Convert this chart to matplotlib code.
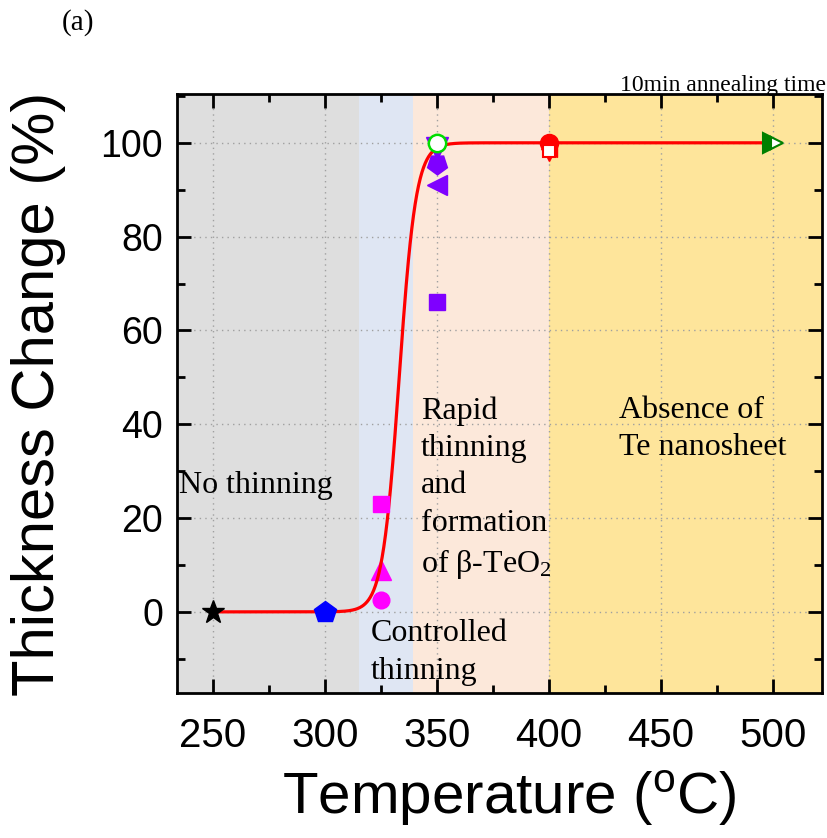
import numpy as np
import matplotlib
matplotlib.use("Agg")
import matplotlib.pyplot as plt
from matplotlib.ticker import MultipleLocator

# ---------------- data ----------------
temp_star = [250]; thick_star = [0]
temp_pent = [300]; thick_pent = [0]
temp_m_circ = [325]; thick_m_circ = [2.5]
temp_m_tri = [325]; thick_m_tri = [9]
temp_m_sq = [325]; thick_m_sq = [23]
temp_p_sq = [350]; thick_p_sq = [66]
temp_p_ltri = [350]; thick_p_ltri = [91]
temp_p_hex = [350]; thick_p_hex = [95.5]
temp_p_dtri = [350]; thick_p_dtri = [98.9]
temp_g_circ = [350]; thick_g_circ = [100]
temp_r_dtri = [400]; thick_r_dtri = [97.5]
temp_r_sq = [400]; thick_r_sq = [98.2]
temp_r_ltri = [400]; thick_r_ltri = [98.6]
temp_r_circ = [400]; thick_r_circ = [100]
temp_g_rtri = [500]; thick_g_rtri = [100]

# Boltzmann fit parameters (red line)
fit_A1, fit_A2, fit_x0, fit_dx = 0.0, 100.0, 333.2, 3.76
fit_xmin, fit_xmax = 250, 500

regions = [(234, 315.2, "#dedede"), (315.2, 339.5, "#dfe6f3"),
           (339.5, 400, "#fce8da"), (400, 522, "#fee59b")]

xticks = [250, 300, 350, 400, 450, 500]
yticks = [0, 20, 40, 60, 80, 100]

# ---------------- figure ----------------
fig = plt.figure(figsize=(8.28, 8.38), dpi=100)
ax = fig.add_axes([0.2138, 0.1730, 0.9928 - 0.2138, 0.8878 - 0.1730])
ax.set_xlim(234, 522)
ax.set_ylim(-17.3, 110.4)

for x0, x1, c in regions:
    ax.axvspan(x0, x1, color=c, lw=0, zorder=0)

ax.grid(True, which="major", color="#a0a0a0", ls=(0, (1, 3)), lw=1.0, zorder=1)

xf = np.linspace(fit_xmin, fit_xmax, 1000)
yf = fit_A2 + (fit_A1 - fit_A2) / (1 + np.exp((xf - fit_x0) / fit_dx))
ax.plot(xf, yf, color="#ff0000", lw=2.3, zorder=3)

def mk(x, y, m, ms, fc, ec=None, z=4, **kw):
    ax.plot(x, y, ls="none", marker=m, ms=ms, mfc=fc, mec=ec if ec else fc,
            zorder=z, **kw)

mk(temp_star, thick_star, "*", 17, "black", z=4)
mk(temp_pent, thick_pent, "p", 16, "#0000ff")
mk(temp_m_circ, thick_m_circ, "o", 12, "#ff00ff")
mk(temp_m_tri, thick_m_tri, "^", 14, "#ff00ff", z=2.5)
mk(temp_m_sq, thick_m_sq, "s", 11, "#ff00ff")
mk(temp_p_sq, thick_p_sq, "s", 12, "#7f00ff")
mk(temp_p_ltri, thick_p_ltri, "<", 15, "#7f00ff")
mk(temp_p_dtri, thick_p_dtri, "v", 16, "#7f00ff", z=2.5)
mk(temp_p_hex, thick_p_hex, (5, 0, 180), 15, "#7f00ff", z=2.6)
mk(temp_g_circ, thick_g_circ, "o", 12.5, "white", "#00dd00", z=4, mew=1.8)
mk(temp_r_dtri, thick_r_dtri, "v", 8, "#ff0000", z=2.5)
mk(temp_r_ltri, thick_r_ltri, "<", 12, "#ff0000", z=2.6)
mk(temp_r_circ, thick_r_circ, "o", 13, "#ff0000", z=4)
mk(temp_r_sq, thick_r_sq, "s", 8, "white", "#ff0000", z=4.5, mew=1.5)
ax.plot(temp_g_rtri, thick_g_rtri, ls="none", marker=">", ms=15,
        mfc="#008000", mfcalt="white", fillstyle="left", mec="#008000",
        mew=1.5, zorder=4)

# ---------------- axes styling ----------------
sans = "Liberation Sans"
serif = "Liberation Serif"
ax.set_xticks(xticks)
ax.set_yticks(yticks)
ax.xaxis.set_minor_locator(MultipleLocator(25))
ax.yaxis.set_minor_locator(MultipleLocator(10))
ax.tick_params(which="both", direction="in", top=True, right=True, width=2,
               color="black")
ax.tick_params(which="major", length=10)
ax.tick_params(which="minor", length=6)
ax.tick_params(axis="x", which="major", pad=17, labelsize=29)
ax.tick_params(axis="y", which="major", pad=10, labelsize=27)
for lab in ax.get_xticklabels() + ax.get_yticklabels():
    lab.set_family(sans)
for s in ax.spines.values():
    s.set_linewidth(2)
    s.set_zorder(6)

ax.set_xlabel("Temperature ($\\mathregular{^{o}}$C)", family=sans,
              fontsize=42, labelpad=10)
ax.xaxis.label.set_x(0.515)
ax.set_ylabel("Thickness Change (%)", family=sans, fontsize=43, labelpad=25)

# ---------------- annotations ----------------
tkw = dict(family=serif, fontsize=23, color="black", zorder=7,
           linespacing=1.38)
ax.text(235, 27, "No thinning", va="center", ha="left", **tkw)
ax.text(320.5, -1.6, "Controlled\nthinning", va="top", ha="left", **tkw)
ax.text(343, 46, "Rapid\nthinning\nand\nformation\nof \u03b2-TeO$\\mathregular{_2}$",
        va="top", ha="left", **tkw)
ax.text(431.5, 46, "Absence of\nTe nanosheet", va="top", ha="left", **tkw)
fig.text(826 / 828, 1 - 91 / 838, "10min annealing time",
         ha="right", va="baseline", family=serif, fontsize=17)
fig.text(62 / 828, 1 - 23 / 838, "(a)", family=serif, fontsize=21,
         ha="left", va="center")

fig.savefig("out.png", dpi=100)
